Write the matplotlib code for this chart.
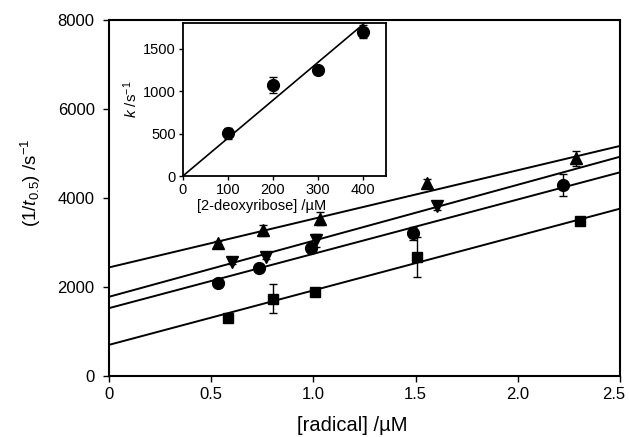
import numpy as np
import matplotlib
matplotlib.use("Agg")
import matplotlib.pyplot as plt
import matplotlib.transforms as mtransforms

plt.rcParams['font.family'] = ['Liberation Sans', 'DejaVu Sans']
plt.rcParams['mathtext.fontset'] = 'custom'
plt.rcParams['mathtext.rm'] = 'Liberation Sans'
plt.rcParams['mathtext.it'] = 'Liberation Sans:italic'

# main panel data: [radical] (uM) vs 1/t0.5 (s^-1)
tri_x = [0.531, 0.752, 1.030, 1.554, 2.283]
tri_y = [2984, 3272, 3537, 4330, 4892]
tri_err = [40, 130, 140, 100, 170]

down_x = [0.601, 0.766, 1.014, 1.603]
down_y = [2551, 2679, 3045, 3820]
down_err = [40, 40, 150, 80]

circ_x = [0.531, 0.733, 0.989, 1.486, 2.223]
circ_y = [2088, 2436, 2870, 3207, 4292]
circ_err = [40, 40, 80, 150, 240]

sq_x = [0.584, 0.804, 1.010, 1.508, 2.304]
sq_y = [1299, 1739, 1890, 2681, 3490]
sq_err = [40, 330, 40, 450, 40]

# fitted lines (intercept, slope)
intercepts = [2440, 1780, 1525, 700]
slopes = [1092, 1259, 1221, 1224]

# inset data: k vs [2-deoxyribose]
ins_x = [100, 200, 300, 400]
ins_k = [505, 1070, 1250, 1700]
ins_err = [65, 95, 25, 80]
ins_slope = 4.47

fig = plt.figure(figsize=(6.29, 4.37), dpi=100)
ax = fig.add_axes([0.1733, 0.1396, 0.8124, 0.8146])

xs = np.array([0, 2.5])
for b, m in zip(intercepts, slopes):
    ax.plot(xs, b + m * xs, color='black', lw=1.4, zorder=2)

ebkw = dict(color='black', ecolor='black', elinewidth=1, capsize=3, capthick=1, ls='none', zorder=3)
ax.errorbar(tri_x, tri_y, yerr=tri_err, marker='^', ms=9, **ebkw)
ax.errorbar(down_x, down_y, yerr=down_err, marker='v', ms=9, **ebkw)
ax.errorbar(circ_x, circ_y, yerr=circ_err, marker='o', ms=8.5, **ebkw)
ax.errorbar(sq_x, sq_y, yerr=sq_err, marker='s', ms=7.5, **ebkw)

ax.set_xlim(0, 2.5)
ax.set_ylim(0, 8000)
ax.set_xticks([0, 0.5, 1.0, 1.5, 2.0, 2.5])
ax.set_xticklabels(['0', '0.5', '1.0', '1.5', '2.0', '2.5'])
ax.set_yticks([0, 2000, 4000, 6000, 8000])
ax.tick_params(direction='out', length=4.3, width=1, labelsize=12)
ax.tick_params(axis='x', pad=3.5)
ax.tick_params(axis='y', pad=6)
for s in ax.spines.values():
    s.set_linewidth(1.5)
ax.set_xlabel('[radical] /\u00b5M', fontsize=14.5)
ax.xaxis.set_label_coords(0.476, -0.112)
ax.set_ylabel('(1/$\\mathit{t}_{0.5}$) /s$^{-1}$', fontsize=13.5)
ax.yaxis.set_label_coords(-0.129, 0.542)

# pull the last x tick label a little inside the figure
last = ax.get_xticklabels()[-1]
last.set_transform(last.get_transform() + mtransforms.ScaledTranslation(-6 / 100, 0, fig.dpi_scale_trans))

# inset
axi = fig.add_axes([0.2905, 0.597, 0.323, 0.350])
xi = np.array([0, 450])
axi.plot(xi, ins_slope * xi, color='black', lw=1.2, zorder=2)
axi.errorbar(ins_x, ins_k, yerr=ins_err, marker='o', ms=8.5, **ebkw)
axi.set_xlim(0, 450)
axi.set_ylim(0, 1800)
axi.set_xticks([0, 100, 200, 300, 400])
axi.set_yticks([0, 500, 1000, 1500])
axi.tick_params(direction='out', length=3, width=1, labelsize=10.5, pad=2)
for s in axi.spines.values():
    s.set_linewidth(1.3)
axi.set_xlabel('[2-deoxyribose] /\u00b5M', fontsize=10.5)
axi.xaxis.set_label_coords(0.388, -0.15)
axi.set_ylabel('$\\mathit{k}$ /s$^{-1}$', fontsize=11, labelpad=2)

fig.savefig('out.png', dpi=100)
